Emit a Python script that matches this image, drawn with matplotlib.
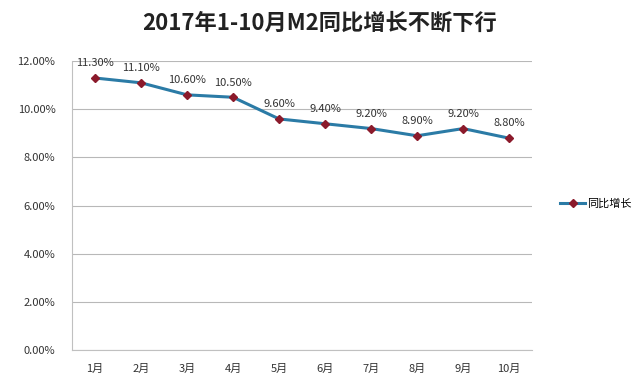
import matplotlib
matplotlib.use("Agg")
import matplotlib.pyplot as plt
from matplotlib.ticker import FuncFormatter

plt.rcParams['font.family'] = ['Noto Sans CJK SC', 'DejaVu Sans']

months = ["1月", "2月", "3月", "4月", "5月", "6月", "7月", "8月", "9月", "10月"]
m2_growth = [11.3, 11.1, 10.6, 10.5, 9.6, 9.4, 9.2, 8.9, 9.2, 8.8]
y_ticks = [0, 2, 4, 6, 8, 10, 12]

fig = plt.figure(figsize=(6.4, 3.92), dpi=100)
ax = fig.add_axes([0.1125, 0.107, 0.719, 0.737])

x = list(range(len(months)))
ax.plot(x, m2_growth, color="#2b7ba6", linewidth=2.2, marker="D", markersize=4,
        markerfacecolor="#8b1a2b", markeredgecolor="#8b1a2b", label="同比增长")

for xi, v in zip(x, m2_growth):
    ax.annotate(f"{v:.2f}%", (xi, v), xytext=(0, 7), textcoords="offset points",
                ha="center", va="bottom", fontsize=8, color="#333333")

ax.set_xlim(-0.5, len(months) - 0.5)
ax.set_ylim(0, 12)
ax.set_yticks(y_ticks)
ax.yaxis.set_major_formatter(FuncFormatter(lambda v, p: f"{v:.2f}%"))
ax.set_xticks(x)
ax.set_xticklabels(months)
ax.tick_params(axis="both", length=0, labelsize=8, colors="#333333")
ax.tick_params(axis="x", pad=10)
ax.tick_params(axis="y", pad=12)
ax.grid(axis="y", color="#b8b8b8", linewidth=0.8)
ax.set_axisbelow(True)
for side in ["top", "right"]:
    ax.spines[side].set_visible(False)
ax.spines["left"].set_color("#c0c0c0")
ax.spines["bottom"].set_color("#c0c0c0")

fig.legend(loc="center left", bbox_to_anchor=(0.86, 0.48), frameon=False,
           fontsize=8, handlelength=2.2, handletextpad=0.2)

fig.text(0.5, 0.94, "2017年1-10月M2同比增长不断下行", ha="center", va="center",
         fontsize=16, fontweight="bold", color="#222222")

fig.savefig("out.png", dpi=100)
